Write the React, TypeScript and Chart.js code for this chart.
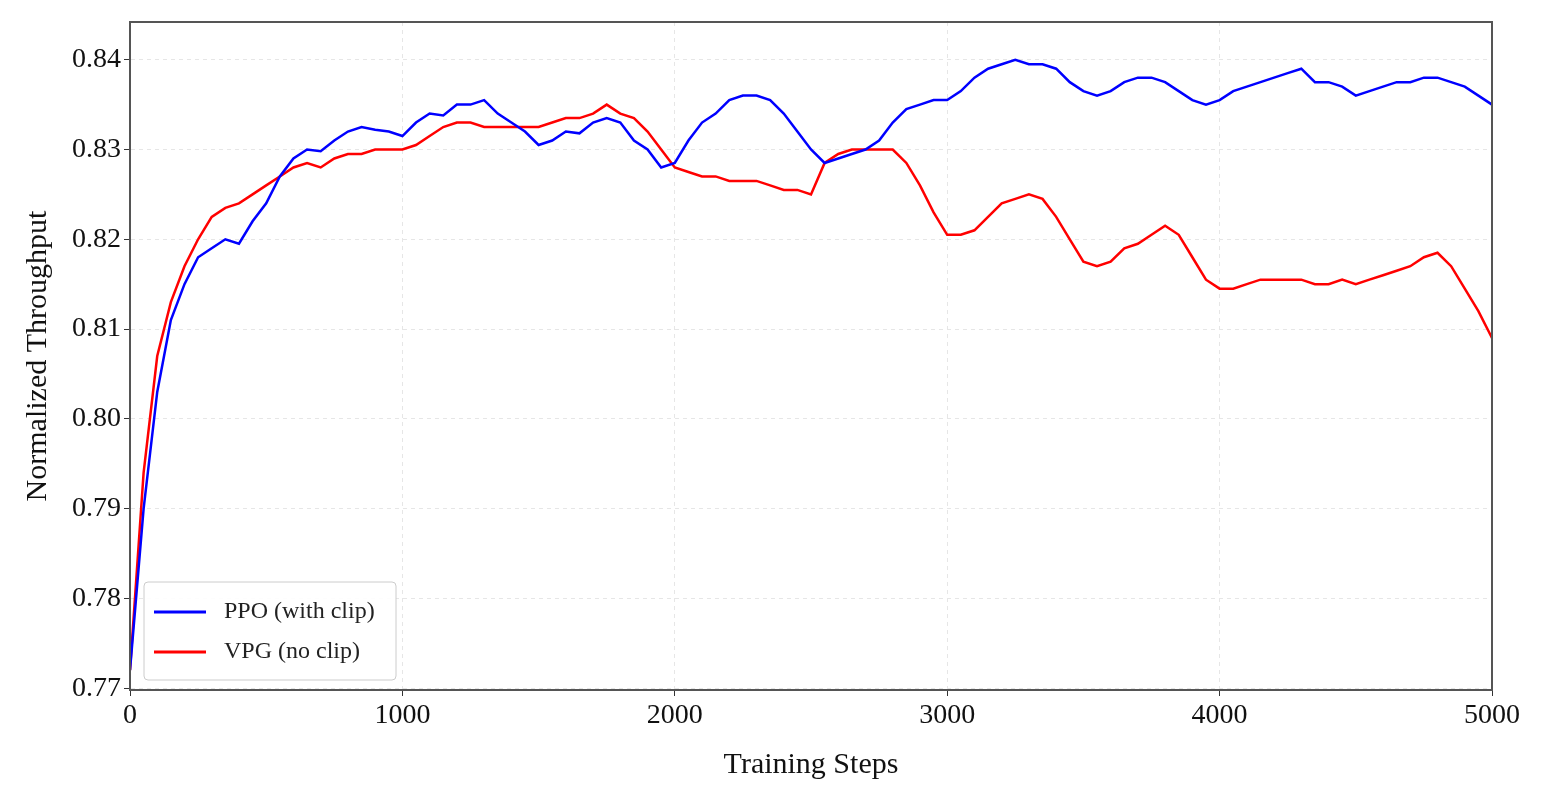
import React, { useEffect, useRef } from "react";
import { Chart, registerables } from "chart.js";
Chart.register(...registerables);

const steps = Array.from({ length: 101 }, (_, i) => i * 50);
const ppo = [0.772,0.790,0.803,0.811,0.815,0.818,0.819,0.820,0.8195,0.822,0.824,0.827,0.829,0.830,0.8298,0.831,0.832,0.8325,0.8322,0.832,0.8315,0.833,0.834,0.8338,0.835,0.835,0.8355,0.834,0.833,0.832,0.8305,0.831,0.832,0.8318,0.833,0.8335,0.833,0.831,0.830,0.828,0.8285,0.831,0.833,0.834,0.8355,0.836,0.836,0.8355,0.834,0.832,0.830,0.8285,0.829,0.8295,0.830,0.831,0.833,0.8345,0.835,0.8355,0.8355,0.8365,0.838,0.839,0.8395,0.840,0.8395,0.8395,0.839,0.8375,0.8365,0.836,0.8365,0.8375,0.838,0.838,0.8375,0.8365,0.8355,0.835,0.8355,0.8365,0.837,0.8375,0.838,0.8385,0.839,0.8375,0.8375,0.837,0.836,0.8365,0.837,0.8375,0.8375,0.838,0.838,0.8375,0.837,0.836,0.835];
const vpg = [0.772,0.794,0.807,0.813,0.817,0.820,0.8225,0.8235,0.824,0.825,0.826,0.827,0.828,0.8285,0.828,0.829,0.8295,0.8295,0.830,0.830,0.830,0.8305,0.8315,0.8325,0.833,0.833,0.8325,0.8325,0.8325,0.8325,0.8325,0.833,0.8335,0.8335,0.834,0.835,0.834,0.8335,0.832,0.830,0.828,0.8275,0.827,0.827,0.8265,0.8265,0.8265,0.826,0.8255,0.8255,0.825,0.8285,0.8295,0.830,0.830,0.830,0.830,0.8285,0.826,0.823,0.8205,0.8205,0.821,0.8225,0.824,0.8245,0.825,0.8245,0.8225,0.820,0.8175,0.817,0.8175,0.819,0.8195,0.8205,0.8215,0.8205,0.818,0.8155,0.8145,0.8145,0.815,0.8155,0.8155,0.8155,0.8155,0.815,0.815,0.8155,0.815,0.8155,0.816,0.8165,0.817,0.818,0.8185,0.817,0.8145,0.812,0.809];
const yTicks = [0.77, 0.78, 0.79, 0.8, 0.81, 0.82, 0.83, 0.84];
const labels = ["PPO (with clip)", "VPG (no clip)"];
const colors = ["#0000ff", "#ff0000"];

export default function App() {
  const ref = useRef<HTMLCanvasElement>(null);
  useEffect(() => {
    document.body.style.margin = "0";
    const font = "'Liberation Serif', 'DejaVu Serif', serif";
    const legendPlugin = {
      id: "insideLegend",
      afterDraw(chart: any) {
        const { ctx, chartArea } = chart;
        const x = chartArea.left + 14, y = chartArea.bottom - 108;
        ctx.save();
        ctx.fillStyle = "rgba(255,255,255,0.9)";
        ctx.strokeStyle = "#cccccc";
        ctx.lineWidth = 1;
        ctx.beginPath();
        (ctx as any).roundRect(x, y, 252, 98, 4);
        ctx.fill(); ctx.stroke();
        ctx.font = `24px ${font}`;
        ctx.textBaseline = "middle";
        labels.forEach((l, i) => {
          const yy = y + 30 + i * 40;
          ctx.strokeStyle = colors[i]; ctx.lineWidth = 3;
          ctx.beginPath(); ctx.moveTo(x + 10, yy); ctx.lineTo(x + 62, yy); ctx.stroke();
          ctx.fillStyle = "#222"; ctx.fillText(l, x + 80, yy);
        });
        ctx.restore();
      },
    };
    const c = new Chart(ref.current!, {
      type: "line",
      data: {
        datasets: [
          { label: labels[0], data: steps.map((s, i) => ({ x: s, y: ppo[i] })), borderColor: colors[0], borderWidth: 2.5, pointRadius: 0, tension: 0 },
          { label: labels[1], data: steps.map((s, i) => ({ x: s, y: vpg[i] })), borderColor: colors[1], borderWidth: 2.5, pointRadius: 0, tension: 0 },
        ],
      },
      options: {
        animation: false, responsive: false,
        layout: { padding: { left: 20, top: 22, right: 52, bottom: 28 } },
        plugins: { legend: { display: false }, tooltip: { enabled: false } },
        scales: {
          x: {
            type: "linear", min: 0, max: 5000,
            ticks: { stepSize: 1000, color: "#111", font: { family: font, size: 28 }, callback: (v: any) => String(v) },
            grid: { color: "#e6e6e6", tickColor: "#333", tickLength: 6 },
            border: { color: "#555", width: 2, dash: [4, 4] },
            title: { display: true, text: "Training Steps", color: "#111", font: { family: font, size: 30 }, padding: 0 },
            afterFit: (s: any) => { s.height = 93; },
          },
          y: {
            min: 0.7698, max: 0.8442,
            afterBuildTicks: (s: any) => { s.ticks = yTicks.map((v) => ({ value: v })); },
            ticks: { color: "#111", font: { family: font, size: 28 }, callback: (v: any) => Number(v).toFixed(2) },
            grid: { color: "#e6e6e6", tickColor: "#333", tickLength: 6 },
            border: { color: "#555", width: 2, dash: [4, 4] },
            title: { display: true, text: "Normalized Throughput", color: "#111", font: { family: font, size: 30 }, padding: 0 },
            afterFit: (s: any) => { s.width = 110; },
          },
        },
      },
      plugins: [legendPlugin,
        { id: "frame", afterDraw(chart: any) { const { ctx, chartArea: a } = chart; ctx.save(); ctx.setLineDash([]); ctx.strokeStyle = "#555"; ctx.lineWidth = 2; ctx.strokeRect(a.left, a.top, a.right - a.left, a.bottom - a.top); ctx.restore(); } }],
    } as any);
    return () => c.destroy();
  }, []);
  return <canvas ref={ref} width={1544} height={811} style={{ display: "block" }} />;
}
